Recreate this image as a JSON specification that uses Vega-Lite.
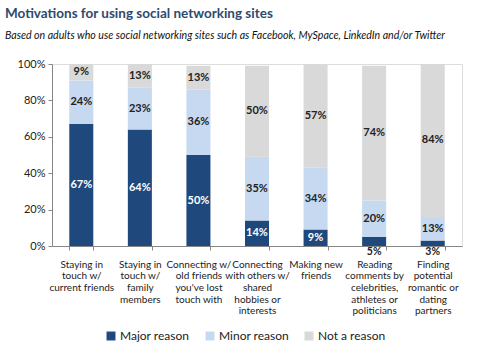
{
  "$schema": "https://vega.github.io/schema/vega-lite/v6.json",
  "autosize": {"type": "none"},
  "width": 410,
  "height": 182,
  "padding": {"left": 52, "top": 64, "right": 38, "bottom": 106},
  "background": "white",
  "title": {
    "text": "Motivations for using social networking sites",
    "subtitle": "Based on adults who use social networking sites such as Facebook, MySpace,  LinkedIn and/or Twitter",
    "anchor": "start",
    "frame": "group",
    "dx": -47,
    "offset": 16,
    "font": "Lato",
    "fontSize": 13.5,
    "fontWeight": "bold",
    "color": "#2E4A6E",
    "subtitleFont": "Lato",
    "subtitleFontSize": 10.6,
    "subtitleFontStyle": "italic",
    "subtitleColor": "#111111",
    "subtitlePadding": 11
  },
  "config": {
    "axisY": {
      "labelOverlap": false,
      "grid": false,
      "labelFont": "Lato",
      "labelFontSize": 11,
      "labelColor": "#222222",
      "tickSize": 4,
      "tickColor": "#868686",
      "domainColor": "#868686",
      "labelPadding": 3
    }
  },
  "data": {
    "values": [
      {"category": "Staying in|touch w/|current friends", "reason": "Major reason", "value": 67, "order": 1},
      {"category": "Staying in|touch w/|current friends", "reason": "Minor reason", "value": 24, "order": 2},
      {"category": "Staying in|touch w/|current friends", "reason": "Not a reason", "value": 9, "order": 3},
      {"category": "Staying in|touch w/|family|members", "reason": "Major reason", "value": 64, "order": 1},
      {"category": "Staying in|touch w/|family|members", "reason": "Minor reason", "value": 23, "order": 2},
      {"category": "Staying in|touch w/|family|members", "reason": "Not a reason", "value": 13, "order": 3},
      {"category": "Connecting w/|old friends|you've lost|touch with", "reason": "Major reason", "value": 50, "order": 1},
      {"category": "Connecting w/|old friends|you've lost|touch with", "reason": "Minor reason", "value": 36, "order": 2},
      {"category": "Connecting w/|old friends|you've lost|touch with", "reason": "Not a reason", "value": 13, "order": 3},
      {"category": "Connecting|with others w/|shared|hobbies or|interests", "reason": "Major reason", "value": 14, "order": 1},
      {"category": "Connecting|with others w/|shared|hobbies or|interests", "reason": "Minor reason", "value": 35, "order": 2},
      {"category": "Connecting|with others w/|shared|hobbies or|interests", "reason": "Not a reason", "value": 50, "order": 3},
      {"category": "Making new|friends", "reason": "Major reason", "value": 9, "order": 1},
      {"category": "Making new|friends", "reason": "Minor reason", "value": 34, "order": 2},
      {"category": "Making new|friends", "reason": "Not a reason", "value": 57, "order": 3},
      {"category": "Reading|comments by|celebrities,|athletes or|politicians", "reason": "Major reason", "value": 5, "order": 1},
      {"category": "Reading|comments by|celebrities,|athletes or|politicians", "reason": "Minor reason", "value": 20, "order": 2},
      {"category": "Reading|comments by|celebrities,|athletes or|politicians", "reason": "Not a reason", "value": 74, "order": 3},
      {"category": "Finding|potential|romantic or|dating|partners", "reason": "Major reason", "value": 3, "order": 1},
      {"category": "Finding|potential|romantic or|dating|partners", "reason": "Minor reason", "value": 13, "order": 2},
      {"category": "Finding|potential|romantic or|dating|partners", "reason": "Not a reason", "value": 84, "order": 3}
    ]
  },
  "encoding": {
    "x": {
      "field": "category",
      "type": "nominal",
      "sort": null,
      "scale": {"paddingInner": 0.59, "paddingOuter": 0.295},
      "axis": {
        "title": null,
        "labelAngle": 0,
        "labelExpr": "split(datum.label, '|')",
        "labelFont": "Lato",
        "labelFontSize": 10,
        "labelColor": "#222222",
        "labelLineHeight": 11.7,
        "labelPadding": 9,
        "labelBaseline": "top",
        "labelOverlap": false,
        "tickBand": "extent",
        "tickSize": 4,
        "tickColor": "#868686",
        "domainColor": "#868686",
        "labelLimit": 0
      }
    }
  },
  "layer": [
    {
      "mark": {"type": "bar"},
      "encoding": {
        "y": {
          "field": "value",
          "type": "quantitative",
          "stack": "zero",
          "scale": {"domain": [0, 100], "nice": false},
          "axis": {
            "title": null,
            "values": [0, 20, 40, 60, 80, 100],
            "labelExpr": "datum.value + '%'",
            "labelOverlap": false
          }
        },
        "color": {
          "field": "reason",
          "type": "nominal",
          "scale": {
            "domain": ["Major reason", "Minor reason", "Not a reason"],
            "range": ["#1F497D", "#C6D9F1", "#D9D9D9"]
          },
          "legend": {
            "title": null,
            "orient": "none",
            "direction": "horizontal",
            "legendX": 53,
            "legendY": 266,
            "symbolType": "square",
            "symbolSize": 80,
            "symbolStrokeWidth": 0,
            "labelFont": "Lato",
            "labelFontSize": 12,
            "labelColor": "#222222",
            "labelOffset": 3,
            "columnPadding": 14
          }
        },
        "order": {"field": "order", "type": "quantitative"}
      }
    },
    {
      "transform": [
        {"stack": "value", "groupby": ["category"], "sort": [{"field": "order", "order": "ascending"}], "as": ["v0", "v1"]},
        {"calculate": "(datum.v0 + datum.v1) / 2", "as": "mid"},
        {"calculate": "datum.value + '%'", "as": "label"},
        {"filter": "!(datum.reason === 'Major reason' && datum.value < 8)"}
      ],
      "mark": {"type": "text", "font": "Lato", "fontSize": 11, "fontWeight": "bold", "baseline": "middle"},
      "encoding": {
        "y": {"field": "mid", "type": "quantitative", "axis": {"title": null, "values": [0, 20, 40, 60, 80, 100], "labelExpr": "datum.value + '%'", "labelOverlap": false}},
        "text": {"field": "label", "type": "nominal"},
        "color": {"condition": {"test": "datum.reason === 'Major reason'", "value": "white"}, "value": "#222222"}
      }
    },
    {
      "transform": [
        {"filter": "datum.reason === 'Major reason' && datum.value < 8"},
        {"calculate": "datum.value + '%'", "as": "label"}
      ],
      "mark": {"type": "text", "font": "Lato", "fontSize": 10.5, "fontWeight": "bold", "baseline": "middle", "dy": 5.5, "color": "#222222"},
      "encoding": {
        "y": {"datum": 0, "type": "quantitative", "axis": {"title": null, "values": [0, 20, 40, 60, 80, 100], "labelExpr": "datum.value + '%'", "labelOverlap": false}},
        "text": {"field": "label", "type": "nominal"}
      }
    }
  ]
}
